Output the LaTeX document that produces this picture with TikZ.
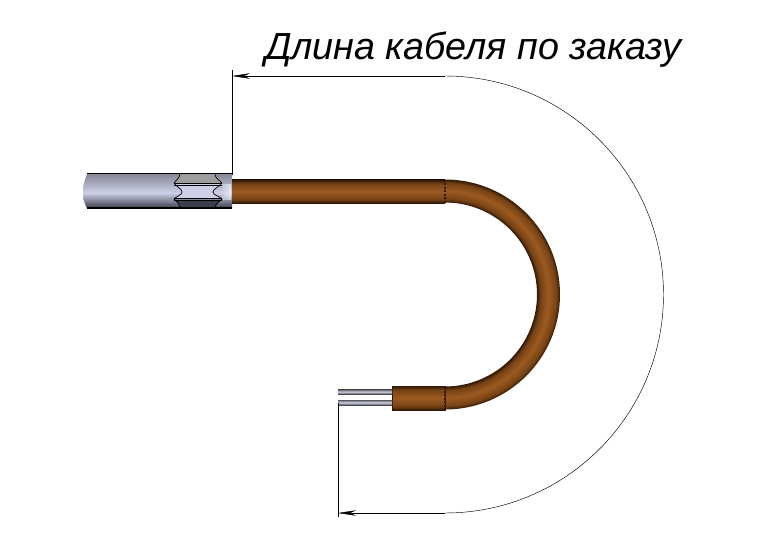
\documentclass[tikz,border=0pt]{standalone}
\usepackage{fontspec}
\setmainfont{Liberation Sans}
\usetikzlibrary{arrows.meta}
\definecolor{cablemid}{RGB}{156,90,32}
\definecolor{cabledark}{RGB}{50,24,5}
\definecolor{cablesoft}{RGB}{118,66,20}
\definecolor{sleevelight}{RGB}{205,208,232}
\definecolor{sleevedark}{RGB}{60,62,76}
\pgfdeclareradialshading{cablering}{\pgfpoint{0bp}{0bp}}{color(0bp)=(cabledark); color(20bp)=(cabledark); color(20.8bp)=(cablesoft); color(22.5bp)=(cablemid); color(24.2bp)=(cablesoft); color(25bp)=(cabledark); color(50bp)=(cabledark)}
\pgfdeclareverticalshading{cablebar}{100bp}{color(0bp)=(cabledark); color(25bp)=(cabledark); color(33bp)=(cablesoft); color(50bp)=(cablemid); color(67bp)=(cablesoft); color(75bp)=(cabledark); color(100bp)=(cabledark)}
\tikzset{
dimline/.style={black,line width=.45pt},
dimtip/.style={-{Stealth[length=18pt,width=5.5pt]}},
wireshade/.style={top color=black!65,bottom color=black!70,middle color=sleevelight}
}
\begin{document}
\begin{tikzpicture}[x=1pt,y=1pt]
\useasboundingbox (0,0) rectangle (762,547);
% sleeve
\shade[top color=sleevelight!65!black,bottom color=sleevelight]
 (87,373) .. controls (84,366) and (83,360) .. (83,354) -- (232,354) -- (232,373) -- cycle;
\shade[top color=sleevelight,bottom color=sleevedark]
 (83,354.2) .. controls (83,349) and (84,344) .. (87,339) -- (232,339) -- (232,354.2) -- cycle;
\fill[black] (87,372.5) rectangle (232,374);
\fill[black] (87,338.5) rectangle (232,340);
\shade[left color=sleevelight,right color=white,opacity=.6] (222,347) rectangle (231,362);
% groove
\fill[black!38] (180,372.5) .. controls (180,369) and (176,367) .. (174,364) -- (222,364) .. controls (219,367) and (215,369) .. (215,372.5) -- cycle;
\fill[sleevelight] (174,363) .. controls (177,360) and (182,358) .. (182,355) .. controls (182,352) and (177,351) .. (174,348) -- (222,348) .. controls (219,351) and (213,352) .. (213,355) .. controls (213,358) and (219,360) .. (222,363) -- cycle;
\fill[sleevedark] (174,347) .. controls (177,345) and (180,343) .. (180,340) -- (215,340) .. controls (215,343) and (219,345) .. (222,347) -- cycle;
\draw[line width=.7pt] (180,373) .. controls (180,369) and (176,367) .. (174,364) .. controls (177,360) and (182,358) .. (182,355) .. controls (182,352) and (177,351) .. (174,348) .. controls (177,345) and (180,343) .. (180,339);
\draw[line width=.7pt] (215,373) .. controls (215,369) and (219,367) .. (222,364) .. controls (219,360) and (213,358) .. (213,355) .. controls (213,352) and (219,351) .. (222,348) .. controls (219,345) and (215,343) .. (215,339);
\draw[line width=.7pt] (174,364) -- (222,364);
\draw[line width=.7pt] (174,362) -- (222,362);
\draw[line width=.7pt] (174,349) -- (222,349);
\draw[line width=.7pt] (174,347) -- (222,347);
% cable
\shade[shading=cablebar] (232,344) rectangle (445,367);
\begin{scope}
\clip (445,367.5) arc[start angle=90,end angle=-90,radius=115] -- (445,160.5) arc[start angle=-90,end angle=90,radius=92] -- cycle;
\shade[shading=cablering] (330,137.5) rectangle (560,367.5);
\end{scope}
\shade[shading=cablebar] (392,137) rectangle (445,161);
\draw[cabledark,line width=.6pt] (392,137) rectangle (445,161);
\draw[cabledark,line width=1.3pt,dash pattern=on 2pt off 1.5pt] (445,344) -- (445,367);
\draw[cabledark,line width=1.3pt,dash pattern=on 2pt off 1.5pt] (445,137) -- (445,161);
% wires
\shade[wireshade] (338,153) rectangle (392,157.5);
\shade[wireshade] (338,142) rectangle (392,147);
% dimension
\coordinate (topfoot) at (232,372);
\coordinate (topend) at (232,477);
\coordinate (topstart) at (232,471);
\coordinate (botfoot) at (338,144);
\coordinate (botend) at (338,30);
\coordinate (botstart) at (338,34);
\draw[dimline] (topfoot) -- (topend);
\draw[dimline] (botfoot) -- (botend);
\draw[dimline,dimtip] (445,471) -- (topstart);
\draw[dimline] (445,471) arc[start angle=90,end angle=-90,radius=218.5] coordinate (arcend);
\draw[dimline,dimtip] (arcend) -- (botstart);
\node[anchor=base,inner sep=0pt,font=\fontsize{37.7}{44}\selectfont\itshape] (title) at (473,487) {Длина кабеля по заказу};
\end{tikzpicture}
\end{document}
